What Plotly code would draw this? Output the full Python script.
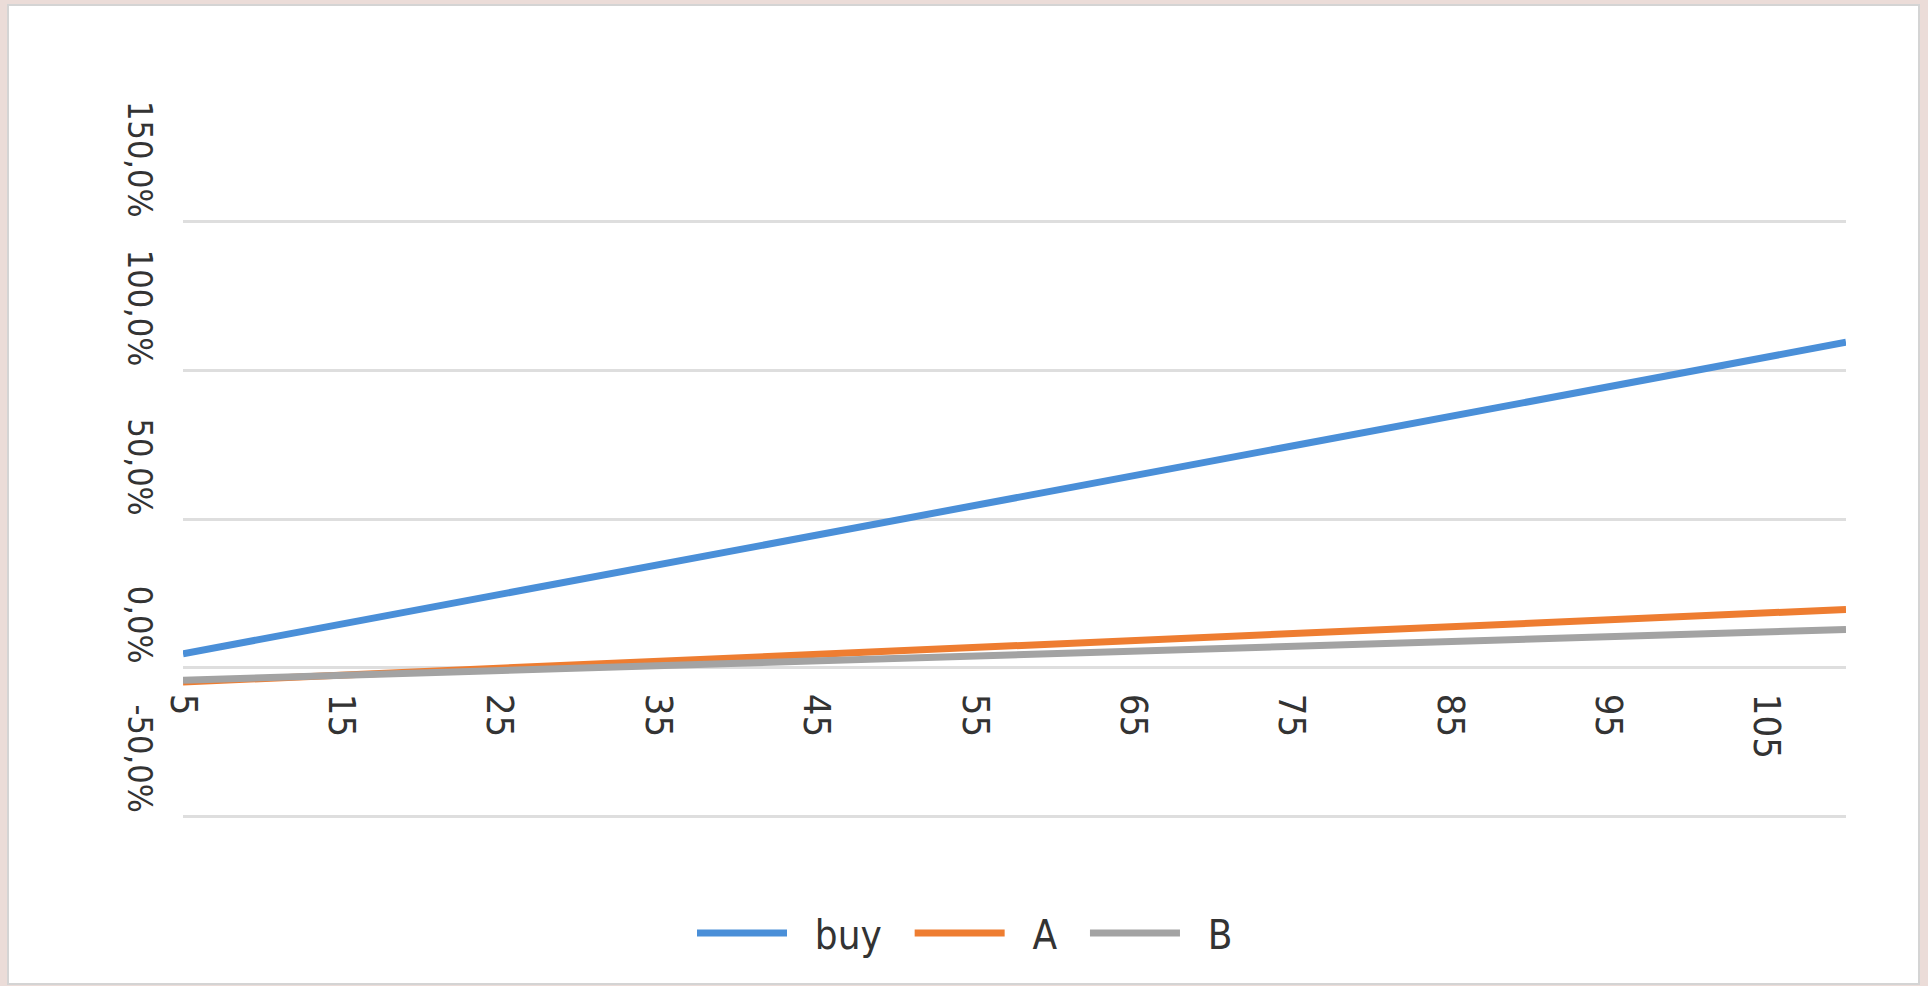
import plotly.graph_objects as go

# ---- data ----
x_vals = [5, 15, 25, 35, 45, 55, 65, 75, 85, 95, 105, 110]
buy = [4.7, 14.7, 24.6, 34.6, 44.6, 54.5, 64.5, 74.5, 84.4, 94.4, 104.4, 109.4]
series_a = [-4.8, -2.5, -0.2, 2.2, 4.5, 6.8, 9.1, 11.4, 13.8, 16.1, 18.4, 19.6]
series_b = [-4.2, -2.6, -0.9, 0.7, 2.3, 4.0, 5.6, 7.2, 8.9, 10.5, 12.1, 12.9]

x_ticks = [5, 15, 25, 35, 45, 55, 65, 75, 85, 95, 105]
y_ticks = [-50, 0, 50, 100, 150]
y_tick_text = ["-50,0%", "0,0%", "50,0%", "100,0%", "150,0%"]

names = ["buy", "A", "B"]
colors = ["#4A8FD8", "#EE7D31", "#A3A3A3"]

FONT = "Liberation Sans Narrow, DejaVu Sans Condensed, Liberation Sans, sans-serif"
TXT = "#333333"

W, H = 1928, 986
L, R, T, B = 183, 82, 220, 168
pw, ph = W - L - R, H - T - B
Y_RANGE = [-50.5, 150.5]


def px_x(p):
    return (p - L) / pw


def px_y(p):
    return (H - B - p) / ph


fig = go.Figure()
for i, (nm, ys, col) in enumerate(zip(names, [buy, series_a, series_b], colors)):
    label = "  " + nm + ("  " if i < len(names) - 1 else "")
    fig.add_trace(go.Scatter(x=x_vals, y=ys, mode="lines", name=label,
                             line=dict(color=col, width=7)))

zero_frac = (0 - Y_RANGE[0]) / (Y_RANGE[1] - Y_RANGE[0])

# y tick labels: rotated, ending at their gridline (Excel style)
annotations = [
    dict(xref="paper", yref="y", x=0, y=v, text=t, showarrow=False,
         textangle=90, xanchor="center", yanchor="bottom",
         xshift=-43, yshift=2,
         font=dict(family=FONT, size=34, color=TXT))
    for v, t in zip(y_ticks, y_tick_text)
]

fig.update_layout(
    width=W, height=H,
    margin=dict(l=L, r=R, t=T, b=B, pad=0),
    paper_bgcolor="#EBDCD8",
    plot_bgcolor="white",
    font=dict(family=FONT, size=38, color=TXT),
    showlegend=True,
    legend=dict(orientation="h", x=px_x(965), y=px_y(933),
                xanchor="center", yanchor="middle",
                font=dict(family=FONT, size=40, color=TXT),
                itemwidth=90, bgcolor="rgba(0,0,0,0)"),
    xaxis=dict(range=[5, 110], tickmode="array", tickvals=x_ticks,
               tickangle=90, showgrid=False, zeroline=False, showline=False,
               ticks="", anchor="free", position=zero_frac,
               ticklabelstandoff=25,
               tickfont=dict(family=FONT, size=38, color=TXT)),
    yaxis=dict(range=Y_RANGE, tickmode="array", tickvals=y_ticks,
               showticklabels=False,
               showgrid=True, gridcolor="#DEDEDE", gridwidth=3,
               zeroline=False, showline=False, ticks=""),
    annotations=annotations,
    shapes=[dict(type="rect", xref="paper", yref="paper",
                 x0=px_x(8), x1=px_x(1919), y0=px_y(984), y1=px_y(5),
                 fillcolor="white", line=dict(color="#D4D4D4", width=2),
                 layer="below")],
)

fig.write_html("out.html")
